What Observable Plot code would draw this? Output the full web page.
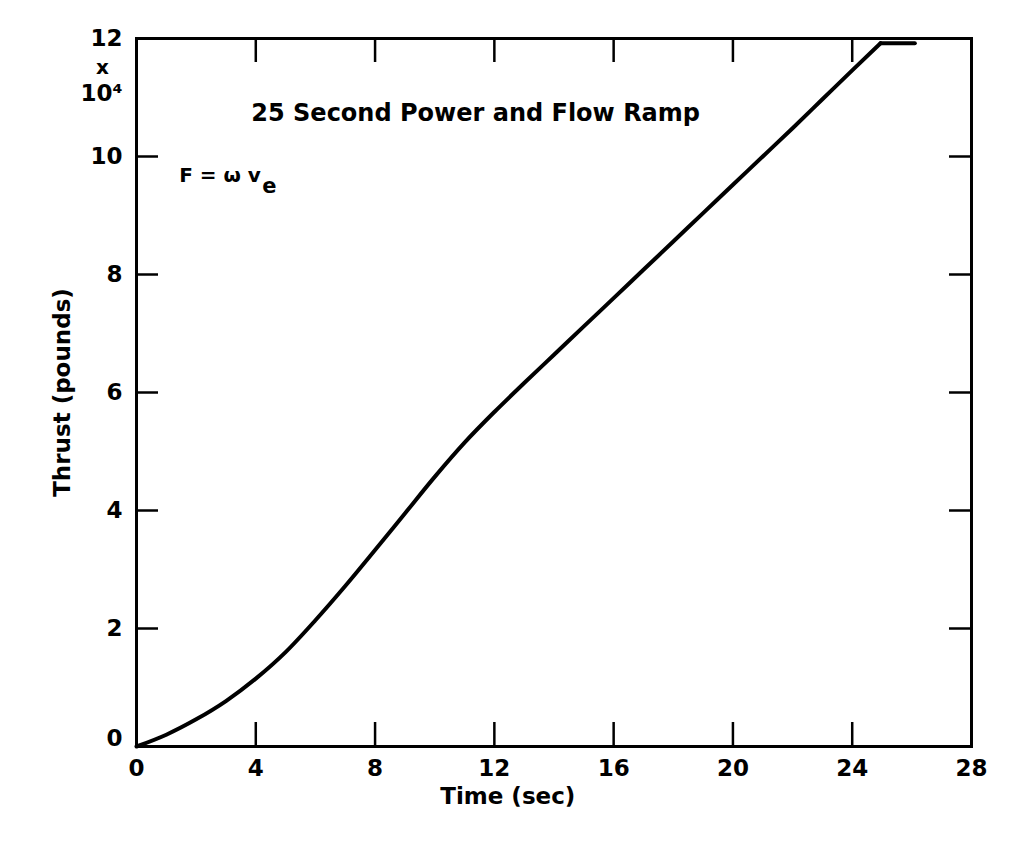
<!DOCTYPE html>
<html><head><meta charset="utf-8">
<script src="https://cdn.jsdelivr.net/npm/d3@7"></script>
<script src="https://cdn.jsdelivr.net/npm/@observablehq/plot@0.6"></script>
<style>body{margin:0;background:#fff}</style>
</head><body><div id="chart"></div>
<script>
// Data
const time   = [0, 1, 2, 3, 4, 5, 6, 7, 8, 9, 10, 11, 12, 13, 14, 15, 16, 17, 18, 19, 20, 21, 22, 23, 24, 24.95, 26.1];
const thrust = [0, 0.2, 0.46, 0.77, 1.15, 1.6, 2.14, 2.72, 3.33, 3.95, 4.57, 5.15, 5.67, 6.16, 6.64, 7.12, 7.6, 8.08, 8.56, 9.04, 9.52, 10.0, 10.48, 10.97, 11.46, 11.92, 11.92];
const rampEnd = 24.95; // thrust reaches full level here, then holds
const xTicks = [0, 4, 8, 12, 16, 20, 24, 28];
const yTicks = [0, 2, 4, 6, 8, 10, 12];
const titleText = "25 Second Power and Flow Ramp";
const formulaText = "F = ω v";
const formulaSub = "e";
const xLabel = "Time (sec)";
const yLabel = "Thrust (pounds)";
const unitTimes = "x";
const unitPower = "10⁴";

const data = time.map((t, i) => ({t, f: thrust[i]}));
const ramp = data.filter(d => d.t <= rampEnd);
const hold = data.filter(d => d.t >= rampEnd);
const W = 1036, H = 845, mt = 38, mb = 99, ml = 136, mr = 65;
const innerH = H - mt - mb, innerW = W - ml - mr;
const TL = 24;
const font = "DejaVu Sans, Liberation Sans, sans-serif";
const fmt = d3.format("d");

const chart = Plot.plot({
  width: W, height: H,
  marginTop: mt, marginBottom: mb, marginLeft: ml, marginRight: mr,
  style: {fontFamily: font, fontSize: "24px", fontWeight: "bold", color: "#000", background: "#fff"},
  x: {domain: [0, 28]},
  y: {domain: [0, 12]},
  marks: [
    Plot.axisX(xTicks, {tickSize: 0, tickPadding: 13, fontSize: 23, fontWeight: "bold", tickFormat: fmt, label: null}),
    Plot.axisY(yTicks.slice(1), {tickSize: 0, tickPadding: 14, fontSize: 23, fontWeight: "bold", tickFormat: fmt, label: null}),
    Plot.axisY([0], {tickSize: 0, tickPadding: 14, dy: -8, fontSize: 23, fontWeight: "bold", tickFormat: fmt, label: null}),
    Plot.tickX(xTicks.slice(1, -1), {x: d => d, insetTop: innerH - TL, strokeWidth: 2.5}),
    Plot.tickX(xTicks.slice(1, -1), {x: d => d, insetBottom: innerH - TL, strokeWidth: 2.5}),
    Plot.tickY(yTicks.slice(1, -1), {y: d => d, insetRight: innerW - 22, strokeWidth: 2.5}),
    Plot.tickY(yTicks.slice(1, -1), {y: d => d, insetLeft: innerW - 22, strokeWidth: 2.5}),
    Plot.frame({strokeWidth: 3}),
    Plot.line(ramp, {x: "t", y: "f", stroke: "#000", strokeWidth: 4, curve: "monotone-x", strokeLinecap: "round"}),
    Plot.line(hold, {x: "t", y: "f", stroke: "#000", strokeWidth: 4, strokeLinecap: "round"}),
    Plot.text([titleText], {x: 3.85, y: 10.73, text: d => d, textAnchor: "start", lineAnchor: "middle", fontSize: 24, fontWeight: "bold"}),
    Plot.text([formulaText], {x: 1.43, y: 9.68, text: d => d, textAnchor: "start", lineAnchor: "middle", fontSize: 20, fontWeight: "bold"}),
    Plot.text([formulaSub], {x: 4.22, y: 9.5, text: d => d, textAnchor: "start", lineAnchor: "middle", fontSize: 21, fontWeight: "bold"}),
    Plot.text([xLabel], {x: 12.45, frameAnchor: "bottom", dy: 50, lineAnchor: "middle", textAnchor: "middle", text: d => d, fontSize: 23, fontWeight: "bold"}),
    Plot.text([yLabel], {frameAnchor: "left", dx: -74, rotate: -90, textAnchor: "middle", lineAnchor: "middle", text: d => d, fontSize: 23, fontWeight: "bold"}),
    Plot.text([unitTimes], {frameAnchor: "top-left", dx: -34, dy: 29, textAnchor: "middle", lineAnchor: "middle", text: d => d, fontSize: 20, fontWeight: "bold"}),
    Plot.text([unitPower], {frameAnchor: "top-left", dx: -14, dy: 55, textAnchor: "end", lineAnchor: "middle", text: d => d, fontSize: 23, fontWeight: "bold"})
  ]
});
document.getElementById("chart").appendChild(chart);
</script>
</body></html>
